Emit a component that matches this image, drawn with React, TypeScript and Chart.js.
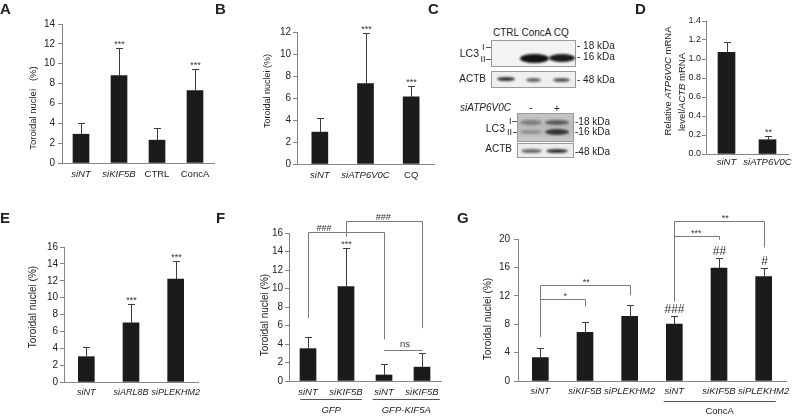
import React, { useEffect, useRef } from 'react';
import { Chart, registerables } from 'chart.js';
Chart.register(...registerables);

const FONT = "'Liberation Sans', Arial, Helvetica, sans-serif";

// ---------- DATA ----------
// Panel A
const aLabels = ['siNT', 'siKIF5B', 'CTRL', 'ConcA'];
const aItalic = [true, true, false, false];
const aMeans = [2.9, 8.8, 2.3, 7.3];
const aErrors = [1.1, 2.8, 1.2, 2.2];
const aMarks = ['', '***', '', '***'];

// Panel B
const bLabels = ['siNT', 'siATP6V0C', 'CQ'];
const bItalic = [true, true, false];
const bMeans = [2.9, 7.3, 6.1];
const bErrors = [1.25, 4.6, 1.0];
const bMarks = ['', '***', '***'];

// Panel D
const dLabels = ['siNT', 'siATP6V0C'];
const dItalic = [true, true];
const dMeans = [1.07, 0.15];
const dErrors = [0.11, 0.04];
const dMarks = ['', '**'];

// Panel E
const eLabels = ['siNT', 'siARL8B', 'siPLEKHM2'];
const eItalic = [true, true, true];
const eMeans = [3.0, 7.0, 12.2];
const eErrors = [1.15, 2.3, 2.15];
const eMarks = ['', '***', '***'];

// Panel F
const fLabels = ['siNT', 'siKIF5B', 'siNT', 'siKIF5B'];
const fItalic = [true, true, true, true];
const fMeans = [3.5, 10.2, 0.65, 1.5];
const fErrors = [1.3, 4.2, 1.15, 1.55];
const fMarks = ['', '***', '', ''];
const fBrackets = [
  { from: 0, to: 2, top: 16.1, fromEnd: 6.8, toEnd: 4.5, label: '###', at: 0.42 },
  { from: 1, to: 3, top: 17.25, fromEnd: 15.6, toEnd: 5.7, label: '###', at: 1.98 },
  { from: 2, to: 3, top: 3.35, fromEnd: 3.35, toEnd: 3.35, label: 'ns', at: 2.55 },
];
const fGroups = [
  { label: 'GFP', start: -0.2, end: 1.42 },
  { label: 'GFP-KIF5A', start: 1.7, end: 3.47 },
];

// Panel G
const gLabels = ['siNT', 'siKIF5B', 'siPLEKHM2', 'siNT', 'siKIF5B', 'siPLEKHM2'];
const gItalic = [true, true, true, true, true, true];
const gMeans = [3.3, 6.85, 9.1, 8.0, 15.9, 14.7];
const gErrors = [1.4, 1.4, 1.6, 1.15, 1.4, 1.15];
const gMarks = ['', '', '', '###', '##', '#'];
const gBrackets = [
  { from: 0, to: 1, top: 11.5, fromEnd: 6.2, toEnd: 10.5, label: '*', at: 0.56 },
  { from: 0, to: 2, top: 13.5, fromEnd: 6.2, toEnd: 12.1, label: '**', at: 1.03 },
  { from: 3, to: 4, top: 20.4, fromEnd: 11.2, toEnd: 19.9, label: '***', at: 3.49 },
  { from: 3, to: 5, top: 22.6, fromEnd: 11.2, toEnd: 18.8, label: '**', at: 4.14 },
];
const gGroups = [{ label: 'ConcA', start: 2.76, end: 5.27 }];

// ---------- TYPES ----------
type Bracket = { from: number; to: number; top: number; fromEnd: number; toEnd: number; label: string; at: number };
type Group = { label: string; start: number; end: number };
type Panel = {
  box: [number, number, number, number];
  plot: [number, number, number, number];
  labels: string[];
  italic: boolean[];
  means: number[];
  errors: number[];
  marks: string[];
  yMax: number;
  yStep: number;
  decimals: number;
  tickSize: number;
  tickPad: number;
  labelSize: number;
  labelPad: number;
  barW: number;
  markSize: number;
  markGap: number;
  brackets: Bracket[];
  bracketSize: number;
  groups: Group[];
  groupItalic: boolean;
  groupLine: number;
  groupText: number;
};

const AXIS = '#858585';
const BAR = '#1b1b1b';
const TEXT = '#222';

function makeOverlay(p: Panel) {
  return {
    id: 'overlay',
    afterDatasetsDraw(chart: any) {
      const ctx: CanvasRenderingContext2D = chart.ctx;
      const x = chart.scales.x;
      const y = chart.scales.y;
      ctx.save();
      ctx.lineWidth = 1;
      ctx.textAlign = 'center';
      ctx.textBaseline = 'alphabetic';
      p.means.forEach((m, i) => {
        const px = Math.round(x.getPixelForValue(i)) + 0.5;
        const yb = y.getPixelForValue(m);
        const yt = Math.round(y.getPixelForValue(m + p.errors[i])) + 0.5;
        ctx.strokeStyle = '#3c3c3c';
        ctx.beginPath();
        ctx.moveTo(px, yb);
        ctx.lineTo(px, yt);
        ctx.moveTo(px - 3.5, yt);
        ctx.lineTo(px + 3.5, yt);
        ctx.stroke();
        if (p.marks[i]) {
          ctx.fillStyle = '#333';
          ctx.font = `${p.markSize}px ${FONT}`;
          ctx.fillText(p.marks[i], px, yt - p.markGap);
        }
      });
      p.brackets.forEach((b) => {
        const x1 = Math.round(x.getPixelForValue(b.from)) + 0.5;
        const x2 = Math.round(x.getPixelForValue(b.to)) + 0.5;
        const yt = Math.round(y.getPixelForValue(b.top)) + 0.5;
        const y1 = y.getPixelForValue(b.fromEnd);
        const y2 = y.getPixelForValue(b.toEnd);
        ctx.strokeStyle = '#7a7a7a';
        ctx.beginPath();
        ctx.moveTo(x1, y1);
        ctx.lineTo(x1, yt);
        ctx.lineTo(x2, yt);
        ctx.lineTo(x2, y2);
        ctx.stroke();
        const isText = /[a-z]/.test(b.label);
        const size = isText ? p.labelSize : p.bracketSize;
        const gap = isText ? 4 : b.label.startsWith('*') ? 1 : 2;
        ctx.fillStyle = '#333';
        ctx.font = `${size}px ${FONT}`;
        ctx.fillText(b.label, x.getPixelForValue(b.at), yt - gap);
      });
      const base = y.getPixelForValue(0);
      p.groups.forEach((g) => {
        const gx1 = x.getPixelForValue(g.start);
        const gx2 = x.getPixelForValue(g.end);
        ctx.strokeStyle = '#555';
        ctx.beginPath();
        ctx.moveTo(gx1, Math.round(base + p.groupLine) + 0.5);
        ctx.lineTo(gx2, Math.round(base + p.groupLine) + 0.5);
        ctx.stroke();
        ctx.fillStyle = TEXT;
        ctx.font = `${p.groupItalic ? 'italic ' : ''}${p.labelSize}px ${FONT}`;
        ctx.fillText(g.label, (gx1 + gx2) / 2, base + p.groupText);
      });
      ctx.restore();
    },
  };
}

function BarPanel({ p }: { p: Panel }) {
  const ref = useRef<HTMLCanvasElement | null>(null);
  useEffect(() => {
    const canvas = ref.current;
    if (!canvas) return;
    const [cx, cy, cw, ch] = p.box;
    const [x0, x1, yTop, yBot] = p.plot;
    const chart = new Chart(canvas, {
      type: 'bar',
      data: {
        labels: p.labels,
        datasets: [
          {
            data: p.means,
            backgroundColor: BAR,
            borderWidth: 0,
            barThickness: p.barW,
          },
        ],
      },
      options: {
        animation: false,
        responsive: false,
        maintainAspectRatio: false,
        events: [],
        layout: { padding: { left: 0, top: yTop - cy, right: cx + cw - x1, bottom: 0 } },
        plugins: { legend: { display: false }, tooltip: { enabled: false }, title: { display: false } },
        scales: {
          x: {
            offset: true,
            grid: { display: false, drawTicks: false },
            border: { display: true, color: AXIS, width: 1 },
            ticks: {
              autoSkip: false,
              maxRotation: 0,
              minRotation: 0,
              padding: p.labelPad,
              color: TEXT,
              font: (c: any) => ({ family: FONT, size: p.labelSize, style: p.italic[c.index] ? 'italic' : 'normal' }),
            },
            afterFit: (s: any) => {
              s.height = cy + ch - yBot;
            },
          },
          y: {
            min: 0,
            max: p.yMax,
            ticks: {
              stepSize: p.yStep,
              padding: p.tickPad,
              color: TEXT,
              font: { family: FONT, size: p.tickSize },
              callback: (v: any) => Number(v).toFixed(p.decimals),
            },
            grid: { display: true, drawOnChartArea: false, drawTicks: true, tickLength: 4, color: AXIS },
            border: { display: true, color: AXIS, width: 1 },
            afterFit: (s: any) => {
              s.width = x0 - cx;
            },
          },
        },
      } as any,
      plugins: [makeOverlay(p)],
    });
    return () => chart.destroy();
  }, [p]);
  const [cx, cy, cw, ch] = p.box;
  return (
    <canvas
      ref={ref}
      width={cw}
      height={ch}
      style={{ position: 'absolute', left: cx, top: cy, width: cw, height: ch }}
    />
  );
}

// ---------- PANEL CONFIGS ----------
const common = {
  decimals: 0,
  barW: 16,
  markSize: 9,
  markGap: 2,
  brackets: [] as Bracket[],
  bracketSize: 9,
  groups: [] as Group[],
  groupItalic: true,
  groupLine: 18,
  groupText: 32,
};

const panelA: Panel = {
  ...common,
  box: [0, 0, 225, 200],
  plot: [62, 214, 24, 163],
  labels: aLabels, italic: aItalic, means: aMeans, errors: aErrors, marks: aMarks,
  yMax: 14, yStep: 2, tickSize: 10, tickPad: 3, labelSize: 9.5, labelPad: 6,
};
const panelB: Panel = {
  ...common,
  box: [225, 0, 215, 200],
  plot: [297, 434, 32, 164],
  labels: bLabels, italic: bItalic, means: bMeans, errors: bErrors, marks: bMarks,
  yMax: 12, yStep: 2, tickSize: 10, tickPad: 2, labelSize: 9.5, labelPad: 6,
};
const panelD: Panel = {
  ...common,
  box: [640, 0, 160, 200],
  plot: [706, 788, 21, 154],
  labels: dLabels, italic: dItalic, means: dMeans, errors: dErrors, marks: dMarks,
  yMax: 1.4, yStep: 0.2, decimals: 1, tickSize: 9, tickPad: 1, labelSize: 9.5, labelPad: 2.5, barW: 17,
};
const panelE: Panel = {
  ...common,
  box: [0, 200, 215, 218],
  plot: [64, 198, 247, 382],
  labels: eLabels, italic: eItalic, means: eMeans, errors: eErrors, marks: eMarks,
  yMax: 16, yStep: 2, tickSize: 10, tickPad: 2, labelSize: 9, labelPad: 5.5,
};
const panelF: Panel = {
  ...common,
  box: [215, 200, 235, 218],
  plot: [289, 441, 233, 381],
  labels: fLabels, italic: fItalic, means: fMeans, errors: fErrors, marks: fMarks,
  yMax: 16, yStep: 2, tickSize: 10, tickPad: 2, labelSize: 9.5, labelPad: 5.5,
  brackets: fBrackets, groups: fGroups, groupItalic: true, groupLine: 18, groupText: 32,
};
const panelG: Panel = {
  ...common,
  box: [450, 200, 350, 218],
  plot: [518, 786, 239, 381],
  labels: gLabels, italic: gItalic, means: gMeans, errors: gErrors, marks: gMarks,
  yMax: 20, yStep: 2, tickSize: 10, tickPad: 4, labelSize: 9.5, labelPad: 5,
  markSize: 12, markGap: 4,
  brackets: gBrackets, groups: gGroups, groupItalic: false, groupLine: 20, groupText: 33,
};

// ---------- HTML TEXT HELPERS ----------
type TP = {
  x: number; y: number; size?: number; bold?: boolean; italic?: boolean;
  align?: 'left' | 'center' | 'right'; color?: string; children: React.ReactNode;
};
function Txt({ x, y, size = 10, bold, italic, align = 'left', color = TEXT, children }: TP) {
  const tx = align === 'center' ? '-50%' : align === 'right' ? '-100%' : '0';
  return (
    <div
      style={{
        position: 'absolute', left: x, top: y - 0.8465 * size, fontSize: size, lineHeight: `${size}px`,
        fontWeight: bold ? 700 : 400, fontStyle: italic ? 'italic' : 'normal', whiteSpace: 'pre',
        transform: `translateX(${tx})`, color,
      }}
    >
      {children}
    </div>
  );
}
function VTxt({ cx, cy, size = 10, children }: { cx: number; cy: number; size?: number; children: React.ReactNode }) {
  return (
    <div
      style={{
        position: 'absolute', left: cx, top: cy, fontSize: size, lineHeight: `${size + 2}px`, whiteSpace: 'pre',
        transform: 'translate(-50%,-50%) rotate(-90deg)', color: TEXT,
      }}
    >
      {children}
    </div>
  );
}
function Band({ x, y, w, h, color, blur = 0.8 }: { x: number; y: number; w: number; h: number; color: string; blur?: number }) {
  return (
    <div
      style={{
        position: 'absolute', left: x - w / 2, top: y - h / 2, width: w, height: h, borderRadius: '50%',
        background: color, filter: `blur(${blur}px)`,
      }}
    />
  );
}
function Box({ x, y, w, h, bg }: { x: number; y: number; w: number; h: number; bg: string }) {
  return (
    <div
      style={{
        position: 'absolute', left: x, top: y, width: w, height: h, boxSizing: 'border-box',
        border: '1px solid #9a9a9a', background: bg, overflow: 'hidden',
      }}
    />
  );
}
function Dash({ x1, x2, y }: { x1: number; x2: number; y: number }) {
  return <div style={{ position: 'absolute', left: x1, top: y, width: x2 - x1, height: 1, background: '#555' }} />;
}

function Blot() {
  return (
    <>
      <Txt x={493} y={36.5} size={10}>CTRL ConcA CQ</Txt>
      <Box x={491} y={40} w={85} h={27} bg="#f3f3f3" />
      <Band x={534} y={58} w={29} h={9} color="#111" />
      <Band x={562} y={58} w={26} h={8} color="#1c1c1c" />
      <Box x={491} y={71} w={85} h={17} bg="#efefef" />
      <Band x={506} y={79} w={18} h={4} color="#333" />
      <Band x={533} y={80} w={15} h={4} color="#666" />
      <Band x={561} y={80} w={17} h={4} color="#555" />
      <Txt x={479} y={57} size={10.5} align="right">LC3</Txt>
      <Txt x={482} y={50.5} size={9}>I</Txt>
      <Txt x={480.5} y={62.5} size={9}>II</Txt>
      <Dash x1={486} x2={491} y={47} />
      <Dash x1={486} x2={491} y={59} />
      <Txt x={486} y={82} size={10} align="right">ACTB</Txt>
      <Txt x={577} y={49} size={10}>- 18 kDa</Txt>
      <Txt x={577} y={60} size={10}>- 16 kDa</Txt>
      <Txt x={577} y={83} size={10}>- 48 kDa</Txt>

      <Txt x={460} y={111.5} size={10} italic>siATP6V0C</Txt>
      <Txt x={531} y={111} size={10} align="center">-</Txt>
      <Txt x={557} y={112} size={10} align="center">+</Txt>
      <Box x={517} y={113} w={57} h={29} bg="linear-gradient(180deg,#c4c4c4,#b9b9b9 50%,#c9c9c9)" />
      <Band x={531} y={122} w={22} h={5} color="#7d7d7d" />
      <Band x={531} y={132} w={22} h={4} color="#8f8f8f" />
      <Band x={557} y={122} w={24} h={5} color="#5a5a5a" />
      <Band x={557} y={132} w={24} h={6} color="#333" />
      <Box x={517} y={143} w={57} h={15} bg="#ececec" />
      <Band x={531} y={151} w={21} h={4} color="#666" />
      <Band x={557} y={151} w={22} h={4} color="#333" />
      <Txt x={505} y={132} size={10.5} align="right">LC3</Txt>
      <Txt x={509} y={125} size={9}>I</Txt>
      <Txt x={507} y={135.5} size={9}>II</Txt>
      <Dash x1={512} x2={517} y={121} />
      <Dash x1={513} x2={517} y={132} />
      <Txt x={512} y={152} size={10} align="right">ACTB</Txt>
      <Txt x={575} y={125} size={10}>-18 kDa</Txt>
      <Txt x={575} y={135} size={10}>-16 kDa</Txt>
      <Txt x={575} y={155} size={10}>-48 kDa</Txt>
    </>
  );
}

export default function App() {
  return (
    <div
      style={{
        position: 'absolute', left: 0, top: 0, width: 800, height: 418, background: '#fff', overflow: 'hidden',
        fontFamily: FONT, color: TEXT,
      }}
    >
      <BarPanel p={panelA} />
      <BarPanel p={panelB} />
      <BarPanel p={panelD} />
      <BarPanel p={panelE} />
      <BarPanel p={panelF} />
      <BarPanel p={panelG} />

      <Txt x={0} y={13.5} size={15} bold>A</Txt>
      <Txt x={215} y={13.5} size={15} bold>B</Txt>
      <Txt x={428} y={13.5} size={15} bold>C</Txt>
      <Txt x={635} y={13.5} size={15} bold>D</Txt>
      <Txt x={0} y={222.5} size={15} bold>E</Txt>
      <Txt x={216} y={222.5} size={15} bold>F</Txt>
      <Txt x={457} y={222.5} size={15} bold>G</Txt>

      <VTxt cx={33} cy={108} size={9.5}>{'Toroidal nuclei   (%)'}</VTxt>
      <VTxt cx={267} cy={91} size={9}>Toroidal nuclei (%)</VTxt>
      <VTxt cx={668} cy={81} size={9.5}>
        Relative <i>ATP6V0C</i> mRNA
      </VTxt>
      <VTxt cx={682} cy={92} size={9.5}>
        level/<i>ACTB</i> mRNA
      </VTxt>
      <VTxt cx={33} cy={307} size={10}>Toroidal nuclei (%)</VTxt>
      <VTxt cx={265} cy={315} size={10}>Toroidal nuclei (%)</VTxt>
      <VTxt cx={488} cy={319} size={10}>Toroidal nuclei (%)</VTxt>

      <Blot />
    </div>
  );
}
